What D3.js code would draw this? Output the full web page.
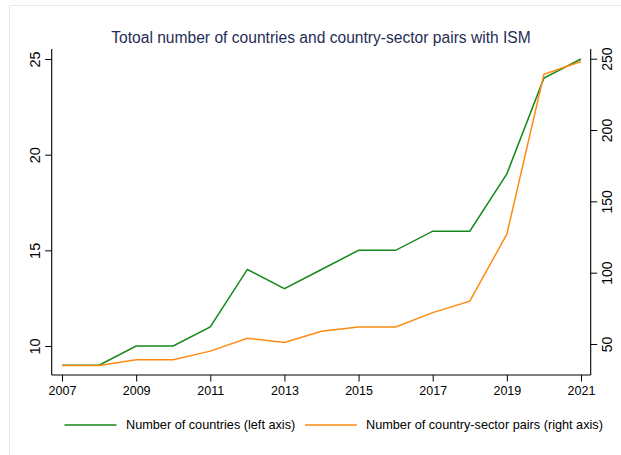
<!DOCTYPE html>
<html>
<head>
<meta charset="utf-8">
<script src="https://cdn.jsdelivr.net/npm/d3@7"></script>
<style>
  html, body { margin: 0; padding: 0; background: #ffffff; }
  svg { display: block; font-family: "Liberation Sans", Arial, Helvetica, sans-serif; }
</style>
</head>
<body>
<svg id="chart" width="621" height="455"></svg>
<script>
// Yearly counts of countries and country-sector pairs with ISM
const years = [2007, 2008, 2009, 2010, 2011, 2012, 2013, 2014, 2015, 2016, 2017, 2018, 2019, 2020, 2021];
const countries = [9, 9, 10, 10, 11, 14, 13, 14, 15, 15, 16, 16, 19, 24, 25];
const pairs = [35, 35, 39, 39, 45, 54, 51, 59, 62, 62, 72, 80, 127, 239, 248];

const xTicks = [2007, 2009, 2011, 2013, 2015, 2017, 2019, 2021];
const leftTicks = [10, 15, 20, 25];
const rightTicks = [50, 100, 150, 200, 250];

const titleText = "Totoal number of countries and country-sector pairs with ISM";
const legendLabels = ["Number of countries (left axis)", "Number of country-sector pairs (right axis)"];
const colors = ["#16891a", "#ff8a12"];

const svg = d3.select("#chart");

// Plot frame
const plotLeft = 51.7, plotRight = 590.7, plotTop = 49, plotBottom = 375;

const x = d3.scaleLinear().domain([2007, 2021]).range([62, 581]);
const yL = d3.scaleLinear().domain([10, 25]).range([346, 59]);
const yR = d3.scaleLinear().domain([50, 250]).range([344, 58.7]);

// faint outer border
svg.append("rect")
  .attr("x", 9.5).attr("y", 5.5)
  .attr("width", 640).attr("height", 470)
  .attr("fill", "none")
  .attr("stroke", "#e4eaea")
  .attr("stroke-width", 1);

// Title
svg.append("text")
  .attr("x", 321).attr("y", 43)
  .attr("text-anchor", "middle")
  .attr("font-size", 15.6)
  .attr("fill", "#1f2d55")
  .text(titleText);

// Axis lines
const axisColor = "#000";
svg.append("line")
  .attr("x1", plotLeft).attr("x2", plotLeft)
  .attr("y1", plotTop).attr("y2", plotBottom)
  .attr("stroke", axisColor).attr("stroke-width", 1.1);
svg.append("line")
  .attr("x1", plotRight).attr("x2", plotRight)
  .attr("y1", plotTop).attr("y2", plotBottom)
  .attr("stroke", axisColor).attr("stroke-width", 1.1);
svg.append("line")
  .attr("x1", plotLeft).attr("x2", plotRight)
  .attr("y1", plotBottom).attr("y2", plotBottom)
  .attr("stroke", axisColor).attr("stroke-width", 1.1);

// Left axis
const leftAxis = svg.append("g")
  .attr("transform", `translate(${plotLeft},0)`)
  .call(d3.axisLeft(yL).tickValues(leftTicks).tickSize(6.5).tickSizeOuter(0));
leftAxis.select(".domain").remove();
leftAxis.selectAll("line").attr("stroke", axisColor);
leftAxis.selectAll("text")
  .attr("font-size", 14.5)
  .attr("fill", "#000")
  .attr("x", null).attr("dy", null)
  .attr("text-anchor", "middle")
  .attr("transform", "translate(-12,0) rotate(-90)");

// Right axis
const rightAxis = svg.append("g")
  .attr("transform", `translate(${plotRight},0)`)
  .call(d3.axisRight(yR).tickValues(rightTicks).tickSize(6.5).tickSizeOuter(0));
rightAxis.select(".domain").remove();
rightAxis.selectAll("line").attr("stroke", axisColor);
rightAxis.selectAll("text")
  .attr("font-size", 14)
  .attr("fill", "#000")
  .attr("x", null).attr("dy", null)
  .attr("text-anchor", "middle")
  .attr("transform", "translate(21.5,0) rotate(-90)");

// Bottom axis
const bottomAxis = svg.append("g")
  .attr("transform", `translate(0,${plotBottom})`)
  .call(d3.axisBottom(x).tickValues(xTicks).tickFormat(d3.format("d")).tickSize(6.5).tickSizeOuter(0));
bottomAxis.select(".domain").remove();
bottomAxis.selectAll("line").attr("stroke", axisColor);
bottomAxis.selectAll("text")
  .attr("font-size", 12.5)
  .attr("fill", "#000")
  .attr("y", 11).attr("dy", "0.71em");

// Series lines
const lineL = d3.line().x((d, i) => x(years[i])).y(d => yL(d));
const lineR = d3.line().x((d, i) => x(years[i])).y(d => yR(d));

svg.append("path")
  .datum(countries)
  .attr("d", lineL)
  .attr("fill", "none")
  .attr("stroke", colors[0])
  .attr("stroke-width", 1.5);

svg.append("path")
  .datum(pairs)
  .attr("d", lineR)
  .attr("fill", "none")
  .attr("stroke", colors[1])
  .attr("stroke-width", 1.5);

// Legend
const legendItems = [
  { x1: 64.5, x2: 116.5, tx: 126, label: legendLabels[0], color: colors[0] },
  { x1: 305, x2: 357, tx: 366, label: legendLabels[1], color: colors[1] }
];
const legendY = 425;
const lg = svg.append("g");
legendItems.forEach(item => {
  lg.append("line")
    .attr("x1", item.x1).attr("x2", item.x2)
    .attr("y1", legendY).attr("y2", legendY)
    .attr("stroke", item.color).attr("stroke-width", 1.5);
  lg.append("text")
    .attr("x", item.tx).attr("y", legendY)
    .attr("dy", "0.35em")
    .attr("font-size", 12.7)
    .attr("fill", "#000")
    .text(item.label);
});
</script>
</body>
</html>
